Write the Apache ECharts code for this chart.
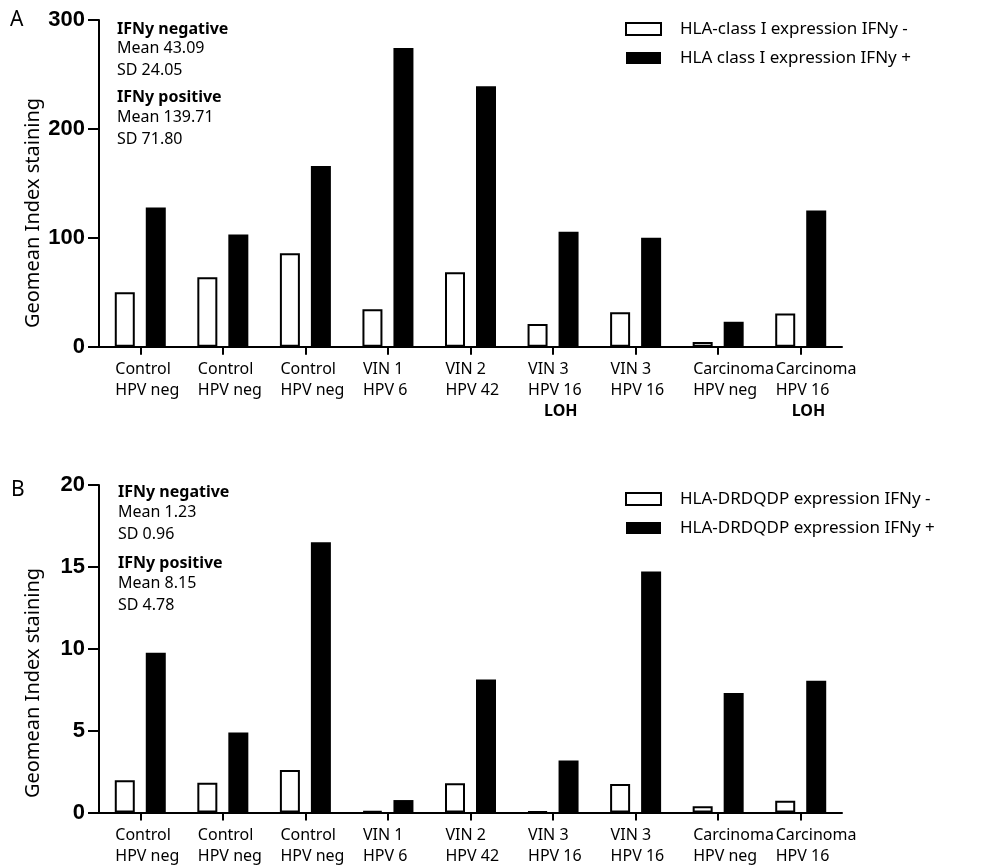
<!DOCTYPE html>
<html><head><meta charset="utf-8">
<script src="https://cdn.jsdelivr.net/npm/echarts@6/dist/echarts.min.js"></script>
<style>html,body{margin:0;padding:0;background:#fff}#c{width:984px;height:867px}</style>
</head><body><div id="c"></div>
<script>
// ---- data ----
const catLine1 = ['Control','Control','Control','VIN 1','VIN 2','VIN 3','VIN 3','Carcinoma','Carcinoma'];
const catLine2 = ['HPV neg','HPV neg','HPV neg','HPV 6','HPV 42','HPV 16','HPV 16','HPV neg','HPV 16'];
const lohNotesA = ['','','','','','LOH','','','LOH'];
const categories = catLine1.map((c, i) => c + ' ' + catLine2[i] + ' #' + i);

const classINeg = [49.9, 63.7, 85.7, 34.3, 68.3, 20.8, 31.6, 4.3, 30.6];
const classIPos = [127.9, 103.1, 166.0, 274.3, 239.2, 105.5, 100.0, 22.9, 125.1];
const drNeg = [1.97, 1.81, 2.59, 0.08, 1.78, 0.05, 1.74, 0.38, 0.72];
const drPos = [9.76, 4.89, 16.5, 0.76, 8.12, 3.17, 14.72, 7.3, 8.04];

const yTicksA = [0, 100, 200, 300];
const yTicksB = [0, 5, 10, 15, 20];

const legendA = ['HLA-class I expression IFNy -', 'HLA class I expression IFNy +'];
const legendB = ['HLA-DRDQDP expression IFNy -', 'HLA-DRDQDP expression IFNy +'];

const statsA = [['IFNy negative', 'Mean 43.09', 'SD 24.05'], ['IFNy positive', 'Mean 139.71', 'SD 71.80']];
const statsB = [['IFNy negative', 'Mean 1.23', 'SD 0.96'], ['IFNy positive', 'Mean 8.15', 'SD 4.78']];

const yTitle = 'Geomean Index staining';
const panelLetters = ['A', 'B'];

// ---- chart ----
const FONT = '"Noto Sans", sans-serif';
const chart = echarts.init(document.getElementById('c'), null, {renderer: 'canvas'});

function catFormatter(notes) {
  return function (v, i) {
    let s = '{a|' + catLine1[i] + '}\n{a|' + catLine2[i] + '}';
    if (notes && notes[i]) s += '\n{b|' + notes[i] + '}';
    return s;
  };
}
const richLabel = {
  a: {fontFamily: FONT, fontSize: 16, lineHeight: 21, width: 50, align: 'left', color: '#000'},
  b: {fontFamily: FONT, fontSize: 16, fontWeight: 'bold', lineHeight: 21, width: 34, padding: [0, 0, 0, 16], align: 'left', color: '#000'}
};

function xAxisDef(gridIndex, notes) {
  return {
    type: 'category', gridIndex, data: categories,
    axisLine: {lineStyle: {color: '#000', width: 2}},
    axisTick: {show: true, length: 8, alignWithLabel: true, lineStyle: {color: '#000', width: 2}},
    axisLabel: {interval: 0, margin: 12, formatter: catFormatter(notes), rich: richLabel, color: '#000'},
    splitLine: {show: false}
  };
}
function yAxisDef(gridIndex, ticks) {
  return {
    type: 'value', gridIndex, min: ticks[0], max: ticks[ticks.length - 1], interval: ticks[1] - ticks[0],
    axisLine: {show: true, lineStyle: {color: '#000', width: 2}},
    axisTick: {show: true, length: 11, lineStyle: {color: '#000', width: 2}},
    axisLabel: {margin: 14, fontFamily: '"Liberation Sans", Arial, sans-serif', fontWeight: 'bold', fontSize: 22, color: '#000'},
    splitLine: {show: false}
  };
}
function negSeries(name, idx, data) {
  return {name, type: 'bar', xAxisIndex: idx, yAxisIndex: idx, data, barWidth: 20, barGap: '55%',
    itemStyle: {color: '#fff', borderColor: '#000', borderWidth: 2}, silent: true};
}
function posSeries(name, idx, data) {
  return {name, type: 'bar', xAxisIndex: idx, yAxisIndex: idx, data, barWidth: 20, barGap: '55%',
    itemStyle: {color: '#000'}, silent: true};
}
function legendDef(names, top) {
  return {orient: 'vertical', left: 625, top, padding: 0, itemWidth: 35, itemHeight: 12, itemGap: 12,
    icon: 'rect', data: names, selectedMode: false,
    textStyle: {fontFamily: FONT, fontSize: 17, lineHeight: 17, color: '#000', padding: [0, 0, 0, 14]}};
}

const graphics = [];
function statTexts(stats, x, ys) {
  let k = 0;
  stats.forEach(group => group.forEach((line, j) => {
    graphics.push({type: 'text', x, y: ys[k++], style: {text: line, fontFamily: FONT, fontSize: 16,
      fontWeight: j === 0 ? 'bold' : 'normal', fill: '#000', align: 'left', verticalAlign: 'middle'}});
  }));
}
statTexts(statsA, 117, [29, 48.5, 70, 97.5, 117.5, 139]);
statTexts(statsB, 118, [492.5, 512.5, 534.5, 563, 583, 605]);
[[33, 213], [33, 683]].forEach(p => graphics.push({type: 'text', x: p[0], y: p[1], rotation: Math.PI / 2,
  style: {text: yTitle, fontFamily: FONT, fontSize: 20, fill: '#000', align: 'center', verticalAlign: 'middle'}}));
[[10, 20.5], [11, 490.5]].forEach((p, i) => graphics.push({type: 'text', x: p[0], y: p[1],
  style: {text: panelLetters[i], fontFamily: FONT, fontSize: 21, fill: '#000', align: 'left', verticalAlign: 'middle'}}));

chart.setOption({
  animation: false,
  backgroundColor: '#fff',
  grid: [
    {left: 99, top: 20, width: 743, height: 326.7, containLabel: false, outerBoundsMode: 'none'},
    {left: 99, top: 485, width: 743, height: 327.5, containLabel: false, outerBoundsMode: 'none'}
  ],
  xAxis: [xAxisDef(0, lohNotesA), xAxisDef(1, null)],
  yAxis: [yAxisDef(0, yTicksA), yAxisDef(1, yTicksB)],
  legend: [legendDef(legendA, 20.5), legendDef(legendB, 490.5)],
  series: [
    negSeries(legendA[0], 0, classINeg), posSeries(legendA[1], 0, classIPos),
    negSeries(legendB[0], 1, drNeg), posSeries(legendB[1], 1, drPos)
  ],
  graphic: graphics
});
</script></body></html>
